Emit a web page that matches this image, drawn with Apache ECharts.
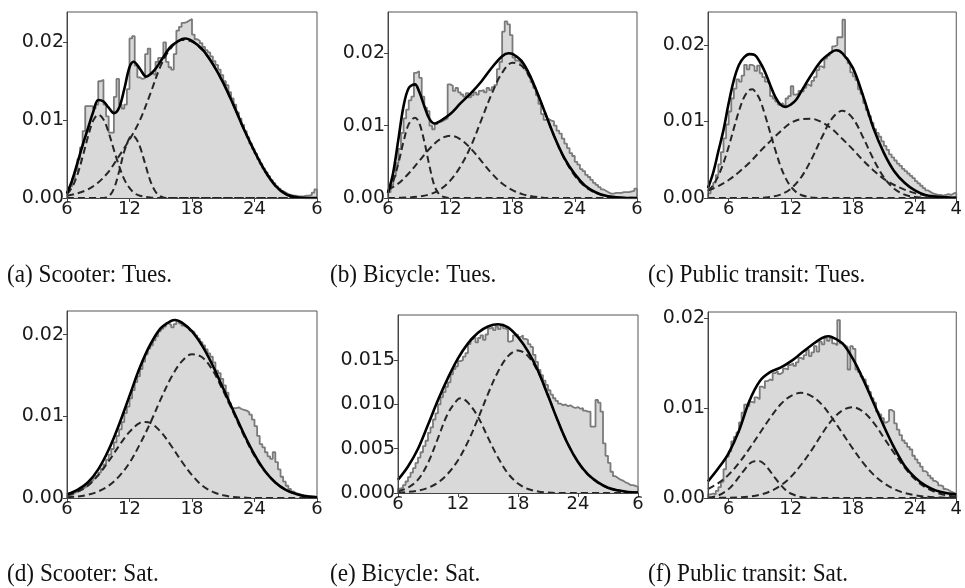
<!DOCTYPE html>
<html><head><meta charset="utf-8">
<script src="https://cdn.jsdelivr.net/npm/echarts@6/dist/echarts.min.js"></script>
<style>html,body{margin:0;padding:0;background:#fff}#c{width:965px;height:588px}</style>
</head><body><div id="c"></div>
<script>
// ---------- tick labels / captions ----------
const xTicksDay = [6, 12, 18, 24, 30];
const xLabelsDay = ['6', '12', '18', '24', '6'];
const xTicksTransit = [6, 12, 18, 24, 28];
const xLabelsTransit = ['6', '12', '18', '24', '4'];
const yTicks2 = [0, 0.01, 0.02];
const yTicks3 = [0, 0.005, 0.010, 0.015];
const captions = ['(a) Scooter: Tues.', '(b) Bicycle: Tues.', '(c) Public transit: Tues.',
                  '(d) Scooter: Sat.', '(e) Bicycle: Sat.', '(f) Public transit: Sat.'];

// ---------- histograms (density x 1e-3, 15-minute bins) ----------
const histA = [0.8,1.5,2.5,3.5, 5.0,6.5,8.6,11.8, 11.8,11.8,11.5,12.0, 15.0,15.2,12.0,10.5, 8.4,8.4,13.0,15.3, 12.0,11.5,12.0,14.0, 20.5,20.8,17.0,15.5, 15.3,15.4,18.5,19.2, 16.0,15.8,17.5,18.0, 18.0,20.0,17.5,16.8, 16.5,18.5,21.5,22.0, 22.5,22.6,22.8,23.0, 21.0,20.4,20.2,19.9, 19.4,19.0,18.7,18.2, 17.6,17.1,16.5,15.8, 15.0,14.5,13.6,12.8, 12.0,11.0,10.2,9.4, 8.6,7.8,7.0,6.3, 5.7,5.0,4.4,3.8, 3.3,2.8,2.3,1.9, 1.5,1.2,0.9,0.7, 0.5,0.4,0.3,0.3, 0.2,0.2,0.2,0.3, 0.3,0.4,0.7,1.1];
const histB = [0.8,1.8,3.0,4.8, 6.8,9.0,11.0,12.2, 13.5,14.0,17.3,17.5, 16.6,14.0,12.5,12.0, 10.0,9.5,10.2,10.5, 10.6,10.8,11.0,15.7, 15.5,14.8,15.2,14.6, 14.3,14.0,14.5,13.9, 14.2,14.6,14.3,14.8, 14.9,14.6,15.2,14.9, 15.3,15.6,17.8,18.8, 23.0,24.4,24.0,22.5, 19.4,19.0,18.9,18.6, 18.2,17.6,16.9,16.0, 15.2,14.2,13.0,11.6, 10.8,10.9,10.7,10.6, 10.0,9.3,8.9,8.2, 7.5,6.9,6.2,5.8, 5.0,4.6,4.0,3.7, 3.2,2.9,2.5,2.1, 1.8,1.5,1.2,1.0, 0.8,0.6,0.6,0.7, 0.7,0.7,0.8,0.8, 0.8,0.9,1.0,1.3];
const histC = [0.6,1.2,2.0,3.0, 4.4,6.0,7.8,9.6, 11.3,13.0,14.3,15.5, 15.2,16.0,17.4,16.8, 17.4,17.2,16.6,17.3, 16.3,15.8,15.2,15.0, 13.3,13.0,12.6,12.2, 12.4,12.1,13.0,13.3, 14.6,13.5,13.6,14.0, 13.9,14.4,14.8,14.6, 15.3,15.8,16.7,17.2, 17.0,18.2,18.6,19.0, 19.8,20.0,21.0,21.0, 23.3,18.3,17.6,16.4, 15.9,15.4,14.2,13.6, 12.4,11.5,10.7,9.8, 9.0,8.5,8.0,7.4, 6.8,6.3,5.7,5.3, 4.9,4.5,4.2,3.8, 3.5,3.2,2.9,2.6, 2.2,1.9,1.6,1.3, 1.0,0.8,0.6,0.5, 0.4,0.4,0.3,0.4, 0.5,0.4,0.6,0.7];
const histD = [0.3,0.4,0.6,0.8, 0.9,1.1,1.3,1.5, 1.8,2.1,2.4,2.7, 3.1,3.6,4.1,4.7, 5.3,6.0,6.8,7.6, 8.4,9.3,10.4,11.2, 12.2,13.2,14.2,14.9, 15.8,16.7,17.6,18.3, 18.7,19.3,19.8,20.4, 20.7,21.0,21.4,21.2, 20.9,21.3,21.7,21.4, 21.1,20.9,20.8,20.5, 20.3,19.9,19.5,19.1, 18.7,18.2,17.7,17.3, 16.6,15.6,15.3,14.6, 13.8,12.9,11.6,11.0, 11.0,11.1,10.9,10.8, 10.7,10.5,10.2,9.6, 8.8,7.6,6.6,6.2, 5.6,5.1,4.8,5.6, 4.4,3.5,2.6,2.0, 1.5,1.1,0.8,0.6, 0.5,0.4,0.3,0.3, 0.2,0.2,0.2,0.1];
const histE = [0.5,0.6,0.9,1.3, 1.8,2.3,2.8,3.4, 4.0,4.6,5.3,5.9, 6.8,7.4,8.3,9.0, 10.0,10.8,11.4,12.0, 12.5,13.4,14.0,14.3, 14.9,15.0,15.4,15.8, 16.8,17.4,17.6,17.0, 17.5,17.8,17.3,17.9, 18.6,18.7,18.4,18.8, 18.5,18.9,18.6,18.4, 17.1,17.2,17.8,17.9, 17.6,17.8,17.4,17.3, 16.8,16.5,15.6,14.8, 13.9,13.3,12.7,12.2, 11.6,11.1,10.7,10.4, 10.1,9.9,10.0,9.8, 9.9,9.7,9.6,9.7, 9.5,9.6,9.3,9.2, 9.2,7.5,7.5,10.5, 10.2,9.2,5.6,4.2, 3.4,2.4,1.9,1.7, 1.5,1.4,1.2,1.1, 0.9,0.9,0.8,0.7];
const histF = [0.4,0.5,0.4,0.8, 1.2,1.8,3.2,4.6, 5.2,6.3,6.8,7.3, 8.4,9.5,10.4,10.2, 10.7,10.6,11.2,11.0, 12.4,12.2,13.0,13.2, 13.1,13.9,14.1,13.8, 14.0,14.4,14.3,14.8, 15.0,14.7,15.1,15.6, 15.4,15.9,16.5,15.8, 16.2,16.9,16.3,17.4, 17.1,17.8,17.5,17.8, 17.2,17.0,19.8,17.2, 17.0,16.8,14.3,16.9, 16.6,14.3,14.0,13.5, 13.2,12.5,11.8,11.1, 10.6,9.6,9.3,8.9, 8.4,8.6,9.8,9.6, 8.3,7.6,7.0,6.4, 6.1,5.7,5.4,4.7, 4.3,3.9,3.5,3.0, 2.8,2.5,2.2,1.9, 1.7,1.4,1.3,1.0, 0.9,0.7,0.6,0.4];

// ---------- fitted mixtures and components: [hour, density x 1e-3] ----------
const mixA = [[6,0.6],[6.5,2.3],[7,4.5],[7.5,6.8],[8,8.9],[8.5,11.0],[9,12.6],[9.5,12.4],[10,11.6],[10.5,10.9],[11,11.6],[11.5,14.0],[12,16.8],[12.4,17.5],[13,16.6],[13.6,15.6],[14,15.9],[14.5,16.6],[15,17.6],[16,19.5],[17,20.4],[17.4,20.5],[18,20.2],[19,19.1],[20,17.2],[21,14.8],[22,11.9],[23,8.8],[24,6.0],[25,3.5],[26,1.6],[27,0.5],[28,0.1],[29,0],[30,0]];
const compA1 = [[6,0.5],[6.5,1.4],[7,3.0],[7.5,5.3],[8,7.8],[8.5,9.9],[9,10.7],[9.5,10.1],[10,8.4],[10.5,6.2],[11,4.1],[11.5,2.4],[12,1.3],[12.5,0.6],[13,0.3],[14,0.05],[15,0],[30,0]];
const compA2 = [[6,0],[9.5,0],[10,0.2],[10.5,1.2],[11,3.4],[11.5,6.0],[12,7.7],[12.3,8.0],[12.6,7.7],[13,6.6],[13.5,4.4],[14,2.2],[14.5,0.8],[15,0.2],[15.5,0],[30,0]];
const compA3 = [[6,0.3],[7,0.6],[8,1.1],[9,2.0],[10,3.4],[11,5.4],[12,7.5],[13,10.0],[14,13.4],[15,17.0],[16,19.3],[17,20.3],[18,20.1],[19,19.0],[20,17.2],[21,14.8],[22,11.9],[23,8.8],[24,6.0],[25,3.5],[26,1.6],[27,0.5],[28,0.1],[29,0],[30,0]];

const mixB = [[6,0.7],[6.5,3.5],[7,8.1],[7.5,12.7],[8,15.2],[8.6,15.7],[9,14.7],[9.5,12.7],[10,10.9],[10.5,10.3],[11,10.6],[12,11.6],[13,13.1],[14,14.5],[15,16.1],[16,18.0],[17,19.6],[17.6,20.0],[18,19.9],[19,18.7],[20,15.9],[21,12.3],[22,8.6],[23,5.5],[24,3.3],[25,1.7],[26,0.8],[27,0.3],[28,0.1],[29,0],[30,0]];
const compB1 = [[6,0.9],[6.5,2.3],[7,4.8],[7.5,7.8],[8,10.2],[8.6,11.1],[9,10.4],[9.5,7.8],[10,4.4],[10.5,1.6],[11,0.4],[11.5,0.1],[12,0],[30,0]];
const compB2 = [[6,1.1],[7,2.0],[8,3.4],[9,5.1],[10,6.8],[11,8.1],[12,8.6],[13,8.1],[14,6.8],[15,5.1],[16,3.4],[17,2.0],[18,1.1],[19,0.5],[20,0.2],[21,0.05],[22,0],[30,0]];
const compB3 = [[6,0],[8,0.07],[9,0.2],[10,0.5],[11,1.15],[12,2.4],[13,4.4],[14,7.2],[15,10.8],[16,14.4],[17,17.3],[18,18.7],[19,18.1],[20,15.7],[21,12.3],[22,8.6],[23,5.4],[24,3.1],[25,1.56],[26,0.71],[27,0.29],[28,0.1],[29,0.04],[30,0.01]];

const mixC = [[4,1.3],[4.5,3.3],[5,6.1],[5.5,8.9],[6,12.4],[6.5,15.4],[7,17.4],[7.5,18.4],[8,18.8],[8.5,18.7],[9,17.8],[9.5,16.5],[10,14.8],[10.5,13.2],[11,12.2],[11.5,11.9],[12,12.2],[12.5,12.8],[13,13.9],[14,16.1],[15,18.0],[16,19.1],[16.4,19.3],[17,18.9],[18,17.0],[19,13.3],[20,9.1],[21,5.9],[22,3.5],[23,2.0],[24,1.0],[25,0.4],[26,0.2],[27,0.1],[28,0]];
const compC1 = [[4,0.9],[4.5,1.7],[5,2.9],[5.5,4.6],[6,6.7],[6.5,9.1],[7,11.4],[7.5,13.2],[8,14.1],[8.3,14.2],[8.5,14.0],[9,12.9],[9.5,10.9],[10,8.6],[10.5,6.3],[11,4.2],[11.5,2.6],[12,1.5],[12.5,0.8],[13,0.4],[14,0.08],[15,0],[28,0]];
const compC2 = [[4,0.97],[5,1.56],[6,2.35],[7,3.4],[8,4.6],[9,6.05],[10,7.4],[11,8.7],[12,9.8],[13,10.3],[14,10.35],[15,9.9],[16,9.0],[17,7.7],[18,6.35],[19,4.9],[20,3.6],[21,2.5],[22,1.7],[23,1.1],[24,0.64],[25,0.36],[26,0.2],[27,0.1],[28,0.05]];
const compC3 = [[4,0],[9,0],[10,0.14],[11,0.44],[12,1.2],[13,2.7],[14,5.05],[15,7.9],[16,10.4],[17,11.4],[18,10.4],[19,7.9],[20,5.05],[21,2.7],[22,1.2],[23,0.44],[24,0.14],[25,0.04],[26,0],[28,0]];

const mixD = [[6,0.45],[7,1.0],[8,1.9],[9,3.5],[10,5.9],[11,9.0],[12,12.5],[13,16.0],[14,18.8],[15,20.8],[16,21.7],[16.4,21.8],[17,21.5],[18,20.4],[19,18.6],[20,16.2],[21,13.4],[22,10.6],[23,7.8],[24,5.3],[25,3.3],[26,1.9],[27,1.0],[28,0.5],[29,0.2],[30,0.1]];
const compD1 = [[6,0.33],[7,0.75],[8,1.5],[9,2.8],[10,4.5],[11,6.4],[12,8.1],[13,9.2],[13.5,9.3],[14,9.2],[15,8.1],[16,6.4],[17,4.5],[18,2.8],[19,1.5],[20,0.75],[21,0.33],[22,0.13],[23,0.05],[24,0],[30,0]];
const compD2 = [[6,0.08],[7,0.18],[8,0.39],[9,0.8],[10,1.5],[11,2.65],[12,4.3],[13,6.6],[14,9.2],[15,12.1],[16,14.75],[17,16.7],[18,17.6],[19,17.2],[20,15.6],[21,13.1],[22,10.4],[23,7.6],[24,5.15],[25,3.25],[26,1.9],[27,1.0],[28,0.5],[29,0.2],[30,0.1]];

const mixE = [[6,1.5],[7,3.0],[8,5.0],[9,7.7],[10,10.5],[11,13.0],[12,15.2],[13,16.9],[14,18.1],[15,18.8],[16,19.05],[17,18.7],[18,17.6],[19,16.0],[20,13.8],[21,11.0],[22,8.1],[23,5.5],[24,3.5],[25,2.1],[26,1.2],[27,0.6],[28,0.3],[29,0.1],[30,0.05]];
const compE1 = [[6,0.2],[7,0.6],[8,1.5],[9,3.4],[10,6.2],[11,9.0],[12,10.6],[12.3,10.7],[13,10.2],[14,8.6],[15,6.25],[16,4.0],[17,2.2],[18,1.07],[19,0.45],[20,0.17],[21,0.05],[22,0],[30,0]];
const compE2 = [[6,0.05],[7,0.12],[8,0.27],[9,0.59],[10,1.18],[11,2.2],[12,3.7],[13,5.8],[14,8.4],[15,11.2],[16,13.7],[17,15.45],[18,16.1],[19,15.45],[20,13.7],[21,11.0],[22,8.1],[23,5.5],[24,3.5],[25,2.05],[26,1.15],[27,0.58],[28,0.27],[29,0.12],[30,0.05]];

const mixF = [[4,1.85],[5,3.3],[6,5.0],[7,7.5],[8,10.8],[9,13.0],[10,14.0],[11,14.5],[12,15.2],[13,16.1],[14,17.0],[15,17.8],[15.6,18.0],[16,17.9],[17,17.2],[18,15.5],[19,13.2],[20,10.6],[21,8.0],[22,5.6],[23,3.6],[24,2.3],[25,1.4],[26,0.85],[27,0.55],[28,0.4]];
const compF1 = [[4,0.06],[5,0.29],[6,1.0],[6.5,1.6],[7,2.36],[7.5,3.1],[8,3.8],[8.5,4.1],[9,4.1],[9.5,3.7],[10,3.0],[10.5,2.2],[11,1.5],[11.5,0.9],[12,0.5],[13,0.11],[14,0.02],[15,0],[28,0]];
const compF2 = [[4,0.99],[5,1.66],[6,2.6],[7,3.9],[8,5.5],[9,7.2],[10,8.9],[11,10.4],[12,11.35],[13,11.7],[14,11.35],[15,10.4],[16,8.9],[17,7.2],[18,5.5],[19,3.9],[20,2.6],[21,1.66],[22,0.99],[23,0.56],[24,0.3],[25,0.15],[26,0.07],[27,0.03],[28,0.01]];
const compF3 = [[4,0],[6,0.03],[7,0.07],[8,0.16],[9,0.36],[10,0.73],[11,1.37],[12,2.34],[13,3.7],[14,5.3],[15,7.1],[16,8.7],[17,9.76],[18,10.1],[19,9.6],[20,8.4],[21,6.7],[22,5.0],[23,3.4],[24,2.1],[25,1.2],[26,0.64],[27,0.31],[28,0.14]];

// ---------- layout (positions / styles) ----------
const panels = [
  {hist: histA, x0: 6, mix: mixA, comps: [compA1, compA2, compA3], ymax: 0.0239, yTicks: yTicks2, dig: 2, xT: xTicksDay, xL: xLabelsDay, g: {left: 67, top: 12, width: 250, height: 186}},
  {hist: histB, x0: 6, mix: mixB, comps: [compB1, compB2, compB3], ymax: 0.0257, yTicks: yTicks2, dig: 2, xT: xTicksDay, xL: xLabelsDay, g: {left: 388, top: 12, width: 249, height: 186}},
  {hist: histC, x0: 4, mix: mixC, comps: [compC1, compC2, compC3], ymax: 0.0243, yTicks: yTicks2, dig: 2, xT: xTicksTransit, xL: xLabelsTransit, g: {left: 708, top: 12, width: 250, height: 186}},
  {hist: histD, x0: 6, mix: mixD, comps: [compD1, compD2], ymax: 0.0229, yTicks: yTicks2, dig: 2, xT: xTicksDay, xL: xLabelsDay, g: {left: 67, top: 311, width: 250, height: 187}},
  {hist: histE, x0: 6, mix: mixE, comps: [compE1, compE2], ymax: 0.0201, yTicks: yTicks3, dig: 3, xT: xTicksDay, xL: xLabelsDay, g: {left: 398, top: 315, width: 240, height: 178}},
  {hist: histF, x0: 4, mix: mixF, comps: [compF1, compF2, compF3], ymax: 0.0207, yTicks: yTicks2, dig: 2, xT: xTicksTransit, xL: xLabelsTransit, g: {left: 708, top: 312, width: 250, height: 186}}
];
const captionPos = [[7, 263], [330, 263], [648, 263], [7, 562], [330, 562], [648, 562]];

const BIN = 0.25;
const xFont = {fontFamily: 'DejaVu Sans', fontSize: 18, color: '#1a1a1a'};
const yFont = {fontFamily: 'DejaVu Sans', fontSize: 19, color: '#1a1a1a'};
const grids = [], xAxes = [], yAxes = [], series = [];
const toPts = arr => arr.map(p => [p[0], p[1] / 1000]);

panels.forEach((p, i) => {
  grids.push(Object.assign({show: true, borderColor: '#555', borderWidth: 1, backgroundColor: 'transparent'}, p.g));
  xAxes.push({
    type: 'value', gridIndex: i, min: p.x0, max: p.x0 + 24, z: 5,
    axisLine: {show: true, onZero: false, lineStyle: {color: '#444', width: 1}},
    axisTick: {show: true, length: 4, customValues: p.xT, lineStyle: {color: '#444', width: 1}},
    axisLabel: Object.assign({customValues: p.xT, margin: 2, formatter: v => p.xL[p.xT.indexOf(v)]}, xFont),
    splitLine: {show: false}
  });
  yAxes.push({
    type: 'value', gridIndex: i, min: 0, max: p.ymax, z: 5,
    axisLine: {show: true, lineStyle: {color: '#444', width: 1}},
    axisTick: {show: true, length: 4, customValues: p.yTicks, lineStyle: {color: '#444', width: 1}},
    axisLabel: Object.assign({customValues: p.yTicks, margin: 3, formatter: v => v.toFixed(p.dig)}, yFont),
    splitLine: {show: false}
  });
  const hd = [[p.x0, 0]];
  p.hist.forEach((v, k) => hd.push([p.x0 + k * BIN, v / 1000]));
  hd.push([p.x0 + p.hist.length * BIN, p.hist[p.hist.length - 1] / 1000]);
  hd.push([p.x0 + p.hist.length * BIN, 0]);
  series.push({type: 'line', xAxisIndex: i, yAxisIndex: i, step: 'end', symbol: 'none', data: hd, z: 1,
    lineStyle: {color: '#7a7a7a', width: 1.8}, areaStyle: {color: '#d9d9d9', opacity: 1}});
  p.comps.forEach(c => series.push({type: 'line', xAxisIndex: i, yAxisIndex: i, smooth: 0.35, symbol: 'none', z: 3,
    data: toPts(c), lineStyle: {color: '#262626', width: 2.0, type: [7, 4]}}));
  series.push({type: 'line', xAxisIndex: i, yAxisIndex: i, smooth: 0.35, symbol: 'none', z: 4,
    data: toPts(p.mix), lineStyle: {color: '#000', width: 2.6}});
});

const graphic = captions.map((t, i) => ({
  type: 'text', x: captionPos[i][0], y: captionPos[i][1], scaleX: 0.93,
  style: {text: t, font: '25px "Liberation Serif"', fill: '#111', verticalAlign: 'top', align: 'left'}
}));

const chart = echarts.init(document.getElementById('c'), null, {renderer: 'canvas'});
chart.setOption({animation: false, grid: grids, xAxis: xAxes, yAxis: yAxes, series: series, graphic: graphic});
</script></body></html>
